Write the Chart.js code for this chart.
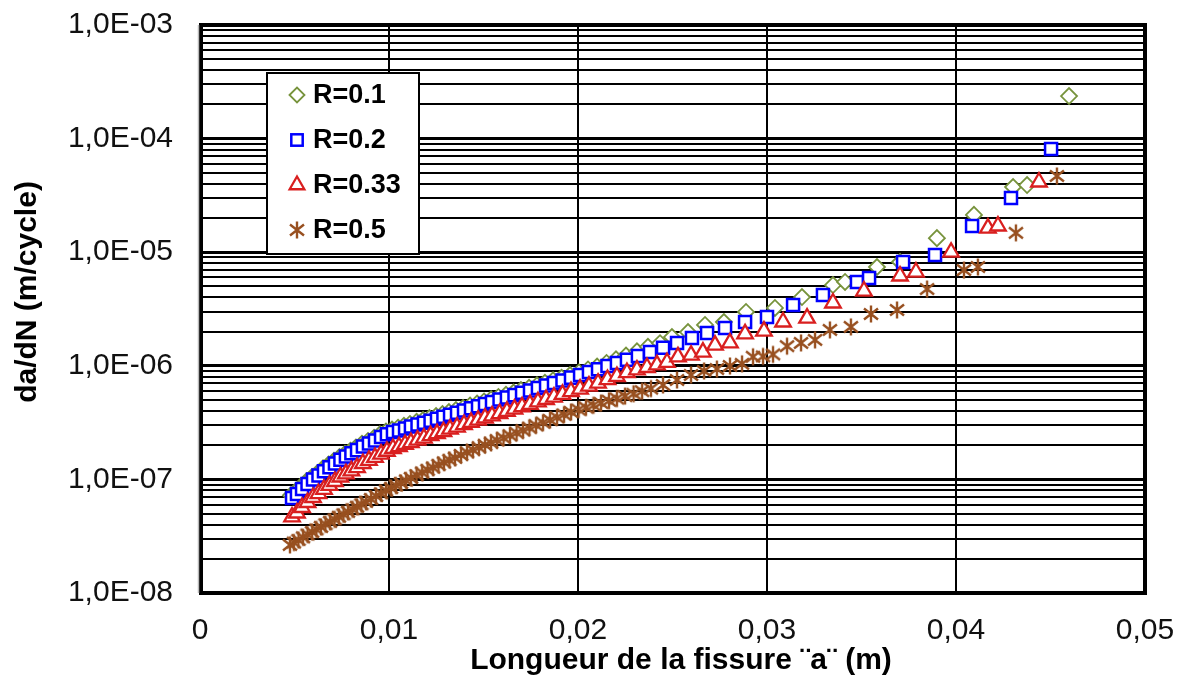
<!DOCTYPE html>
<html>
<head>
<meta charset="utf-8">
<script src="https://cdn.jsdelivr.net/npm/chart.js@4.4.0/dist/chart.umd.min.js"></script>
<style>
html, body { margin: 0; padding: 0; background: #fff; }
#wrap { width: 1189px; height: 683px; }
</style>
</head>
<body>
<div id="wrap"><canvas id="chart" width="1189" height="683"></canvas></div>
<script>
// crack length a (m) and da/dN (m/cycle)
var a_R01 = [0.00481,0.00508,0.00534,0.00563,0.00593,0.00622,0.00651,0.00680,0.00709,0.00738,
  0.00767,0.00796,0.00825,0.00857,0.00889,0.00921,0.00952,0.00984,0.01016,0.01048,
  0.01079,0.01111,0.01146,0.01180,0.01214,0.01249,0.01283,0.01317,0.01354,0.01392,
  0.01429,0.01466,0.01503,0.01540,0.01579,0.01619,0.01659,0.01698,0.01741,0.01783,
  0.01825,0.01868,0.01913,0.01958,0.02005,0.02053,0.02101,0.02151,0.02201,0.02254,
  0.02312,0.02370,0.02434,0.02497,0.02582,0.02672,0.02772,0.02889,0.03042,0.03185,
  0.03349,0.03413,0.03582,0.03704,0.03899,0.04095,0.04302,0.04376,0.04598];
var v_R01 = [7.24e-8,7.85e-8,8.68e-8,9.61e-8,1.05e-7,1.14e-7,1.25e-7,1.35e-7,1.46e-7,1.57e-7,
  1.68e-7,1.79e-7,1.91e-7,2.06e-7,2.18e-7,2.32e-7,2.49e-7,2.64e-7,2.75e-7,2.85e-7,
  2.96e-7,3.08e-7,3.21e-7,3.33e-7,3.47e-7,3.61e-7,3.76e-7,3.91e-7,4.08e-7,4.26e-7,
  4.46e-7,4.65e-7,4.86e-7,5.07e-7,5.32e-7,5.56e-7,5.82e-7,6.11e-7,6.40e-7,6.74e-7,
  7.08e-7,7.45e-7,7.85e-7,8.30e-7,8.74e-7,9.28e-7,9.84e-7,1.06e-6,1.14e-6,1.23e-6,
  1.34e-6,1.47e-6,1.58e-6,1.79e-6,1.98e-6,2.29e-6,2.43e-6,2.98e-6,3.23e-6,4.03e-6,
  5.14e-6,5.47e-6,7.41e-6,8.20e-6,1.33e-5,2.13e-5,3.75e-5,3.90e-5,2.37e-4];

var a_R02 = [0.00487,0.00513,0.00540,0.00569,0.00598,0.00627,0.00656,0.00685,0.00714,0.00743,
  0.00772,0.00801,0.00831,0.00862,0.00894,0.00926,0.00958,0.00989,0.01021,0.01053,
  0.01085,0.01116,0.01151,0.01185,0.01220,0.01254,0.01288,0.01323,0.01360,0.01397,
  0.01434,0.01471,0.01508,0.01545,0.01585,0.01624,0.01664,0.01704,0.01746,0.01788,
  0.01831,0.01873,0.01918,0.01963,0.02011,0.02058,0.02106,0.02156,0.02206,0.02259,
  0.02317,0.02381,0.02450,0.02524,0.02603,0.02683,0.02778,0.02884,0.03000,0.03138,
  0.03296,0.03476,0.03540,0.03720,0.03889,0.04085,0.04291,0.04503];
var v_R02 = [6.86e-8,7.44e-8,8.23e-8,9.11e-8,1.00e-7,1.08e-7,1.18e-7,1.28e-7,1.38e-7,1.49e-7,
  1.59e-7,1.70e-7,1.81e-7,1.95e-7,2.07e-7,2.20e-7,2.36e-7,2.50e-7,2.61e-7,2.70e-7,
  2.81e-7,2.92e-7,3.04e-7,3.16e-7,3.29e-7,3.42e-7,3.56e-7,3.71e-7,3.87e-7,4.04e-7,
  4.23e-7,4.41e-7,4.61e-7,4.81e-7,5.04e-7,5.27e-7,5.52e-7,5.79e-7,6.07e-7,6.39e-7,
  6.71e-7,7.06e-7,7.44e-7,7.87e-7,8.28e-7,8.80e-7,9.33e-7,9.94e-7,1.06e-6,1.13e-6,
  1.22e-6,1.32e-6,1.44e-6,1.59e-6,1.76e-6,1.94e-6,2.15e-6,2.43e-6,2.69e-6,3.43e-6,
  4.20e-6,5.47e-6,5.93e-6,8.20e-6,9.45e-6,1.70e-5,3.00e-5,8.10e-5];

var a_R033 = [0.00487,0.00513,0.00540,0.00569,0.00598,0.00627,0.00656,0.00685,0.00714,0.00743,
  0.00772,0.00801,0.00831,0.00862,0.00894,0.00926,0.00958,0.00989,0.01021,0.01053,
  0.01085,0.01116,0.01151,0.01185,0.01220,0.01254,0.01288,0.01323,0.01360,0.01397,
  0.01434,0.01471,0.01508,0.01545,0.01585,0.01624,0.01664,0.01704,0.01746,0.01788,
  0.01831,0.01873,0.01918,0.01963,0.02011,0.02058,0.02106,0.02156,0.02206,0.02259,
  0.02312,0.02365,0.02418,0.02471,0.02529,0.02598,0.02661,0.02725,0.02804,0.02884,
  0.02984,0.03085,0.03212,0.03349,0.03513,0.03704,0.03788,0.03974,0.04169,0.04222,0.04439];
var v_R033 = [4.67e-8,5.06e-8,5.66e-8,6.26e-8,6.93e-8,7.51e-8,8.18e-8,8.87e-8,9.58e-8,1.05e-7,
  1.12e-7,1.19e-7,1.27e-7,1.38e-7,1.47e-7,1.56e-7,1.67e-7,1.77e-7,1.87e-7,1.94e-7,
  2.03e-7,2.11e-7,2.22e-7,2.31e-7,2.43e-7,2.53e-7,2.63e-7,2.77e-7,2.89e-7,3.04e-7,
  3.18e-7,3.32e-7,3.47e-7,3.62e-7,3.80e-7,3.97e-7,4.16e-7,4.36e-7,4.57e-7,4.81e-7,
  5.05e-7,5.31e-7,5.60e-7,5.93e-7,6.24e-7,6.63e-7,7.03e-7,7.56e-7,8.05e-7,8.70e-7,
  9.19e-7,9.66e-7,1.02e-6,1.07e-6,1.20e-6,1.24e-6,1.32e-6,1.52e-6,1.59e-6,1.91e-6,
  2.02e-6,2.43e-6,2.63e-6,3.57e-6,4.55e-6,6.17e-6,6.69e-6,1.00e-5,1.63e-5,1.70e-5,4.15e-5];

var a_R05 = [0.00476,0.00497,0.00521,0.00545,0.00569,0.00593,0.00616,0.00640,0.00664,0.00688,
  0.00712,0.00735,0.00759,0.00783,0.00807,0.00831,0.00854,0.00878,0.00905,0.00931,
  0.00958,0.00984,0.01011,0.01037,0.01063,0.01090,0.01116,0.01146,0.01175,0.01204,
  0.01233,0.01262,0.01291,0.01320,0.01349,0.01381,0.01413,0.01444,0.01476,0.01508,
  0.01540,0.01571,0.01606,0.01640,0.01675,0.01709,0.01743,0.01778,0.01815,0.01852,
  0.01889,0.01926,0.01963,0.02003,0.02042,0.02082,0.02122,0.02164,0.02206,0.02249,
  0.02294,0.02339,0.02386,0.02450,0.02524,0.02598,0.02667,0.02735,0.02804,0.02868,
  0.02926,0.02979,0.03032,0.03106,0.03180,0.03254,0.03333,0.03444,0.03550,0.03688,
  0.03847,0.04042,0.04116,0.04317,0.04534];
var v_R05 = [2.65e-8,2.78e-8,2.93e-8,3.09e-8,3.27e-8,3.44e-8,3.63e-8,3.82e-8,4.03e-8,4.23e-8,
  4.45e-8,4.69e-8,4.93e-8,5.19e-8,5.46e-8,5.74e-8,6.04e-8,6.35e-8,6.72e-8,7.14e-8,
  7.55e-8,7.99e-8,8.40e-8,8.84e-8,9.30e-8,9.78e-8,1.03e-7,1.09e-7,1.15e-7,1.21e-7,
  1.27e-7,1.34e-7,1.41e-7,1.48e-7,1.55e-7,1.64e-7,1.73e-7,1.82e-7,1.91e-7,2.01e-7,
  2.10e-7,2.21e-7,2.32e-7,2.44e-7,2.57e-7,2.70e-7,2.85e-7,2.99e-7,3.16e-7,3.33e-7,
  3.52e-7,3.72e-7,3.92e-7,4.11e-7,4.30e-7,4.49e-7,4.70e-7,4.92e-7,5.15e-7,5.41e-7,
  5.68e-7,5.98e-7,6.30e-7,6.78e-7,7.50e-7,8.30e-7,9.00e-7,9.37e-7,9.96e-7,1.04e-6,
  1.20e-6,1.21e-6,1.26e-6,1.49e-6,1.59e-6,1.69e-6,2.07e-6,2.20e-6,2.86e-6,3.10e-6,
  4.74e-6,6.97e-6,7.41e-6,1.48e-5,4.69e-5];

var seriesNames = ['R=0.1', 'R=0.2', 'R=0.33', 'R=0.5'];

var yDecades = [1e-8, 1e-7, 1e-6, 1e-5, 1e-4, 1e-3];
var yTickLabels = ['1,0E-08', '1,0E-07', '1,0E-06', '1,0E-05', '1,0E-04', '1,0E-03'];
var yMinorSteps = [2, 3, 4, 5, 6, 7, 8, 9];
var xTicks = [0, 0.01, 0.02, 0.03, 0.04, 0.05];
var xTickLabels = ['0', '0,01', '0,02', '0,03', '0,04', '0,05'];

var xTitle = 'Longueur de la fissure \u00a8a\u00a8 (m)';
var yTitle = 'da/dN (m/cycle)';

var green = '#77933C', blue = '#0000FF', red = '#D91F1F', brown = '#985020';

function pts(xs, ys) {
    return xs.map(function(x, i) { return {x: x, y: ys[i]}; });
}

function makeStar(color) {
    var c = document.createElement('canvas');
    c.width = 20; c.height = 20;
    var g = c.getContext('2d');
    g.strokeStyle = color;
    g.lineWidth = 2.4;
    g.beginPath();
    g.moveTo(10, 1.5); g.lineTo(10, 18.5);
    g.moveTo(3, 4.5); g.lineTo(17, 15.5);
    g.moveTo(3, 15.5); g.lineTo(17, 4.5);
    g.stroke();
    return c;
}
var starImg = makeStar(brown);

// all grid values of the log axis (decades + 2..9)
var yGrid = [];
for (var d = 0; d < yDecades.length; d++) {
    yGrid.push(yDecades[d]);
    if (d < yDecades.length - 1) {
        yMinorSteps.forEach(function(m) { yGrid.push(m * yDecades[d]); });
    }
}

function isDecade(v) {
    for (var i = 0; i < yDecades.length; i++) {
        if (Math.abs(v / yDecades[i] - 1) < 1e-6) return i;
    }
    return -1;
}

var decor = {
    id: 'decor',
    beforeDatasetsDraw: function(chart) {
        var ctx = chart.ctx, ca = chart.chartArea;
        ctx.save();
        ctx.strokeStyle = '#000';
        ctx.lineWidth = 4;
        ctx.strokeRect(ca.left + 1, ca.top, ca.right - ca.left - 1, ca.bottom - ca.top);
        ctx.strokeStyle = '#bbb';
        ctx.lineWidth = 1.5;
        ctx.beginPath();
        ctx.moveTo(ca.left - 1.5, ca.top);
        ctx.lineTo(ca.left - 1.5, ca.bottom);
        ctx.stroke();
        ctx.restore();
    },
    afterDraw: function(chart) {
        var ctx = chart.ctx;
        ctx.save();
        // legend box
        ctx.fillStyle = '#fff';
        ctx.fillRect(267, 73, 152, 181);
        ctx.strokeStyle = '#000';
        ctx.lineWidth = 2;
        ctx.strokeRect(267, 73, 152, 181);
        var ys = [95, 140, 185, 230], mx = 297;
        // diamond
        ctx.strokeStyle = green; ctx.lineWidth = 1.8;
        ctx.beginPath();
        ctx.moveTo(mx - 7.5, ys[0]); ctx.lineTo(mx, ys[0] - 7.5);
        ctx.lineTo(mx + 7.5, ys[0]); ctx.lineTo(mx, ys[0] + 7.5);
        ctx.closePath(); ctx.stroke();
        // square
        ctx.strokeStyle = blue; ctx.lineWidth = 2.5;
        ctx.strokeRect(mx - 5.7, ys[1] - 5.7, 11.4, 11.4);
        // triangle
        ctx.strokeStyle = red; ctx.lineWidth = 2.3;
        var r = 8.5;
        ctx.beginPath();
        ctx.moveTo(mx, ys[2] - r);
        ctx.lineTo(mx + Math.sin(2.0944) * r, ys[2] - Math.cos(2.0944) * r);
        ctx.lineTo(mx + Math.sin(4.1888) * r, ys[2] - Math.cos(4.1888) * r);
        ctx.closePath(); ctx.stroke();
        // star
        ctx.drawImage(starImg, mx - 10, ys[3] - 10);
        ctx.fillStyle = '#000';
        ctx.font = "bold 27px 'Liberation Sans', Arial, sans-serif";
        ctx.textAlign = 'left';
        ctx.textBaseline = 'middle';
        for (var i = 0; i < seriesNames.length; i++) {
            ctx.fillText(seriesNames[i], 313, ys[i] + 1);
        }
        // axis titles
        ctx.font = "bold 30px 'Liberation Sans', Arial, sans-serif";
        ctx.textAlign = 'center';
        ctx.fillText(xTitle, 681, 661);
        ctx.translate(28, 292);
        ctx.rotate(-Math.PI / 2);
        ctx.fillText(yTitle, 0, 0);
        ctx.restore();
    }
};

Chart.defaults.font.family = "'Liberation Sans', Arial, sans-serif";
Chart.defaults.color = '#000';

var chart = new Chart(document.getElementById('chart').getContext('2d'), {
    type: 'scatter',
    data: {
        datasets: [
            {
                label: seriesNames[0], data: pts(a_R01, v_R01), order: 4,
                pointStyle: 'rectRot', pointRadius: 8, pointBorderWidth: 1.8,
                pointBorderColor: green, pointBackgroundColor: '#fff',
                borderColor: green, backgroundColor: '#fff'
            },
            {
                label: seriesNames[1], data: pts(a_R02, v_R02), order: 3,
                pointStyle: 'rect', pointRadius: 8.5, pointBorderWidth: 2.5,
                pointBorderColor: blue, pointBackgroundColor: '#fff',
                borderColor: blue, backgroundColor: '#fff'
            },
            {
                label: seriesNames[2], data: pts(a_R033, v_R033), order: 2,
                pointStyle: 'triangle', pointRadius: 9, pointBorderWidth: 2.3,
                pointBorderColor: red, pointBackgroundColor: '#fff',
                borderColor: red, backgroundColor: '#fff'
            },
            {
                label: seriesNames[3], data: pts(a_R05, v_R05), order: 1,
                pointStyle: starImg, pointRadius: 10,
                pointBorderColor: brown, pointBackgroundColor: brown,
                borderColor: brown, backgroundColor: brown
            }
        ]
    },
    options: {
        responsive: false,
        animation: false,
        events: [],
        layout: { padding: { left: 0, right: 44, top: 25, bottom: 0 } },
        plugins: {
            legend: { display: false },
            tooltip: { enabled: false }
        },
        scales: {
            x: {
                type: 'linear',
                min: 0,
                max: 0.05,
                afterFit: function(scale) {
                    scale.height = 90;
                    scale.paddingLeft = 0;
                    scale.paddingRight = 0;
                },
                afterBuildTicks: function(scale) {
                    scale.ticks = xTicks.map(function(v) { return {value: v}; });
                },
                border: { display: false },
                grid: { color: '#000', lineWidth: 2, drawTicks: false },
                ticks: {
                    padding: 20,
                    autoSkip: false,
                    maxRotation: 0,
                    font: { size: 30 },
                    color: '#111',
                    callback: function(value) {
                        var i = Math.round(value * 100);
                        return xTickLabels[i] !== undefined ? xTickLabels[i] : '';
                    }
                }
            },
            y: {
                type: 'logarithmic',
                min: 1e-8,
                max: 1e-3,
                afterFit: function(scale) {
                    scale.width = 200;
                    scale.paddingTop = 0;
                    scale.paddingBottom = 0;
                },
                afterBuildTicks: function(scale) {
                    scale.ticks = yGrid.map(function(v) { return {value: v}; });
                },
                border: { display: false },
                grid: {
                    color: '#000',
                    drawTicks: false,
                    lineWidth: function(ctx) {
                        return ctx.tick && isDecade(ctx.tick.value) >= 0 ? 3 : 2;
                    }
                },
                ticks: {
                    padding: 27,
                    autoSkip: false,
                    font: { size: 30 },
                    color: '#111',
                    callback: function(value) {
                        var i = isDecade(value);
                        return i >= 0 ? yTickLabels[i] : '';
                    }
                }
            }
        }
    },
    plugins: [decor]
});
</script>
</body>
</html>
